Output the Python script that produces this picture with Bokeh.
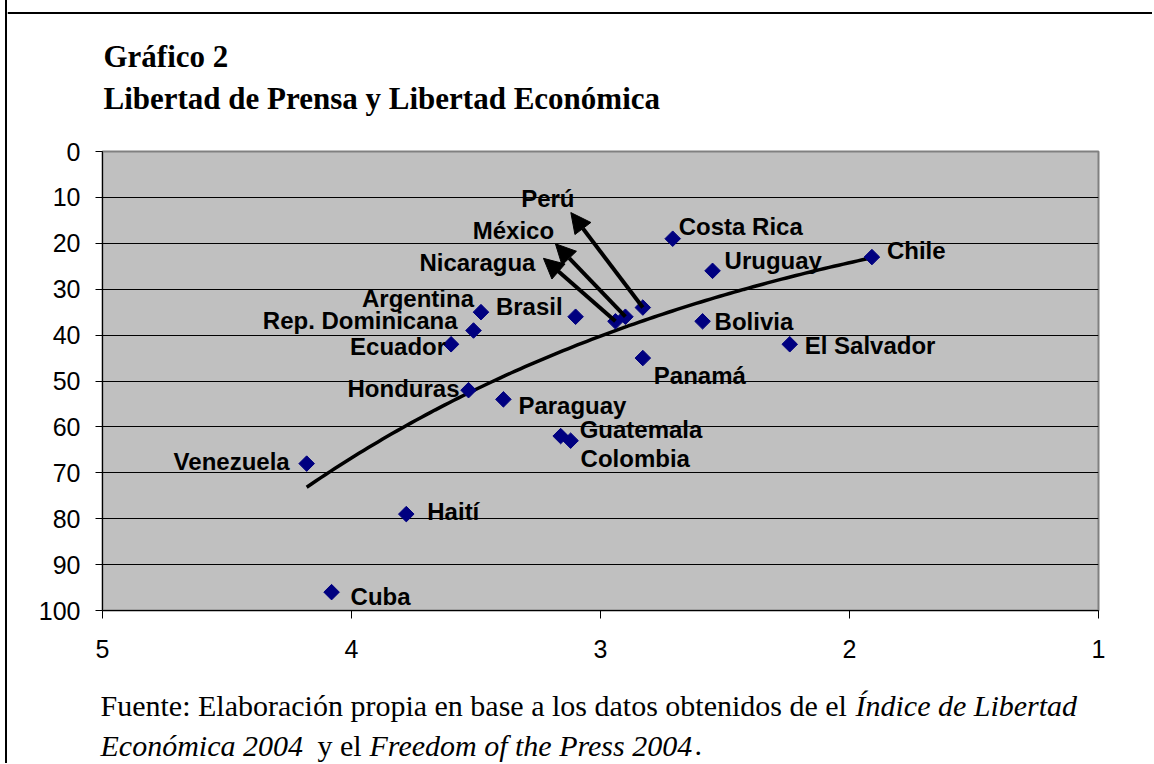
import numpy as np
from bokeh.plotting import figure
from bokeh.layouts import column
from bokeh.models import Range1d, FixedTicker, Arrow, NormalHead, ColumnDataSource
from bokeh.embed import file_html
from bokeh.resources import INLINE
from bokeh.core.properties import value

# ---------------- data ----------------
countries = ["Venezuela", "Cuba", "Haití", "Ecuador", "Honduras", "Rep. Dominicana",
             "Argentina", "Paraguay", "Brasil", "Guatemala", "Colombia", "Nicaragua",
             "México", "Perú", "Panamá", "Costa Rica", "Uruguay", "Bolivia",
             "El Salvador", "Chile"]
economic_freedom = [4.18, 4.08, 3.78, 3.60, 3.53, 3.51, 3.48, 3.39, 3.10, 3.16, 3.12,
                    2.94, 2.90, 2.83, 2.83, 2.71, 2.55, 2.59, 2.24, 1.91]
press_freedom = [68, 96, 79, 42, 52, 39, 35, 54, 36, 62, 63, 37, 36, 34, 45, 19, 26, 37, 42, 23]
x_ticks = [5, 4, 3, 2, 1]
y_ticks = [0, 10, 20, 30, 40, 50, 60, 70, 80, 90, 100]

title_lines = ["Gráfico 2", "Libertad de Prensa y Libertad Económica"]
note_line1 = [("Fuente: Elaboración propia en base a los datos obtenidos de el", False),
              ("Índice de Libertad", True)]
note_line2 = [("Económica 2004", True), ("y el", False),
              ("Freedom of the Press 2004", True), (".", False)]

# ---------------- layout (pixels) ----------------
OX = 7                      # page x where the layout content starts (after border)
W = 1145
FRAME_W, FRAME_H = 996, 459
LEFT = 102 - OX
HEAD_H = 136
CHART_TOP = 15
CHART_BOTTOM = 59
FOOT_TOP = HEAD_H + CHART_TOP + FRAME_H + CHART_BOTTOM
FOOT_H = 94
PX_X = FRAME_W / 4.0
PX_Y = FRAME_H / 100.0

label_layout = {
    "Venezuela": (-17, -2, "right"), "Cuba": (19, 4, "left"), "Haití": (21, -3, "left"),
    "Ecuador": (-5, 2, "right"), "Honduras": (-9, -2, "right"),
    "Rep. Dominicana": (-16, -10, "right"), "Argentina": (-7, -14, "right"),
    "Paraguay": (15, 6, "left"), "Brasil": (-13, -10, "right"),
    "Guatemala": (19, -7, "left"), "Colombia": (10, 18, "left"),
    "Nicaragua": (-138, -59, "center"), "México": (-112, -86, "center"),
    "Perú": (-95, -109, "center"), "Panamá": (11, 17, "left"),
    "Costa Rica": (6, -12, "left"), "Uruguay": (12, -10, "left"),
    "Bolivia": (12, 0, "left"), "El Salvador": (15, 1, "left"), "Chile": (15, -7, "left"),
}
arrow_tips = {"Perú": (-72, -95), "México": (-70, -73), "Nicaragua": (-72, -63)}


def no_align(f):
    if "frame_align" in f.properties():
        f.frame_align = False


def blank_fig(h):
    f = figure(width=W, height=h, output_backend="svg", toolbar_location=None,
               x_range=Range1d(0, W), y_range=Range1d(h, 0),
               x_axis_location=None, y_axis_location=None,
               min_border=0, min_border_left=0, min_border_right=0,
               min_border_top=0, min_border_bottom=0)
    f.grid.visible = False
    f.outline_line_color = None
    f.background_fill_color = "white"
    f.border_fill_color = "white"
    no_align(f)
    return f


# ---------------- header ----------------
head = blank_fig(HEAD_H)
head.segment(x0=[0], y0=[12.5], x1=[W], y1=[12.5], line_color="black", line_width=2)
head.text(x=[103 - OX, 103 - OX], y=[56, 98], text=title_lines,
          text_font=value("Liberation Serif"), text_font_style="bold",
          text_font_size="31px", text_color="black", text_baseline="alphabetic")

# ---------------- chart ----------------
p = figure(width=W, height=CHART_TOP + FRAME_H + CHART_BOTTOM,
           output_backend="svg", toolbar_location=None,
           x_range=Range1d(5, 1), y_range=Range1d(100, 0),
           min_border_left=LEFT, min_border_right=W - LEFT - FRAME_W,
           min_border_top=CHART_TOP, min_border_bottom=CHART_BOTTOM)
no_align(p)
p.background_fill_color = "#C0C0C0"
p.border_fill_color = "white"
p.outline_line_color = "#808080"
p.outline_line_width = 2

p.xgrid.visible = False
p.ygrid.ticker = FixedTicker(ticks=y_ticks)
p.ygrid.grid_line_color = "black"
p.ygrid.grid_line_width = 1

p.xaxis.ticker = FixedTicker(ticks=x_ticks)
p.yaxis.ticker = FixedTicker(ticks=y_ticks)
for ax in (p.xaxis, p.yaxis):
    ax.axis_line_color = "black"
    ax.axis_line_width = 1
    ax.major_tick_line_color = "black"
    ax.major_tick_in = 0
    ax.minor_tick_line_color = None
    ax.major_label_text_font = "Liberation Sans"
    ax.major_label_text_font_size = "25px"
    ax.major_label_text_color = "black"
p.xaxis.major_tick_out = 8
p.yaxis.major_tick_out = 7
p.xaxis.major_label_standoff = 21
p.yaxis.major_label_standoff = 15

# trend line: exponential fit of the data
b, ln_a = np.polyfit(economic_freedom, np.log(press_freedom), 1)
xs = np.linspace(min(economic_freedom), max(economic_freedom), 120)
p.line(xs, np.exp(ln_a + b * xs), line_color="black", line_width=3.5)

src = ColumnDataSource(dict(
    x=economic_freedom, y=press_freedom, name=countries,
    dx=[label_layout[c][0] for c in countries],
    dy=[label_layout[c][1] for c in countries],
    align=[label_layout[c][2] for c in countries],
))
p.scatter("x", "y", source=src, marker="square", angle=np.pi / 4, size=11,
          color="#000080")
p.text("x", "y", text="name", source=src, x_offset="dx", y_offset="dy",
       text_align="align", text_baseline="middle",
       text_font=value("Liberation Sans"), text_font_style="bold",
       text_font_size="24px", text_color="black")

for c, (tx, ty) in arrow_tips.items():
    i = countries.index(c)
    x0, y0 = economic_freedom[i], press_freedom[i]
    p.add_layout(Arrow(x_start=x0, y_start=y0,
                       x_end=x0 - tx / PX_X, y_end=y0 + ty / PX_Y,
                       line_width=4, line_color="black",
                       end=NormalHead(size=20, fill_color="black", line_color="black")))

# ---------------- source note ----------------
foot = blank_fig(FOOT_H)
seg_x = [[100, 855], [100, 317, 369, 694]]
seg_y = [705, 745]
for line, xs_line, yb in zip([note_line1, note_line2], seg_x, seg_y):
    for (txt, ital), x0 in zip(line, xs_line):
        foot.text(x=[x0 - OX], y=[yb - FOOT_TOP], text=[txt],
                  text_font=value("Liberation Serif"),
                  text_font_style="italic" if ital else "normal",
                  text_font_size="30px", text_color="black", text_baseline="alphabetic")

layout = column(head, p, foot, spacing=0,
                styles={"margin-left": "5px", "border-left": "2px solid black"})
open("out.html", "w").write(file_html(layout, INLINE))
